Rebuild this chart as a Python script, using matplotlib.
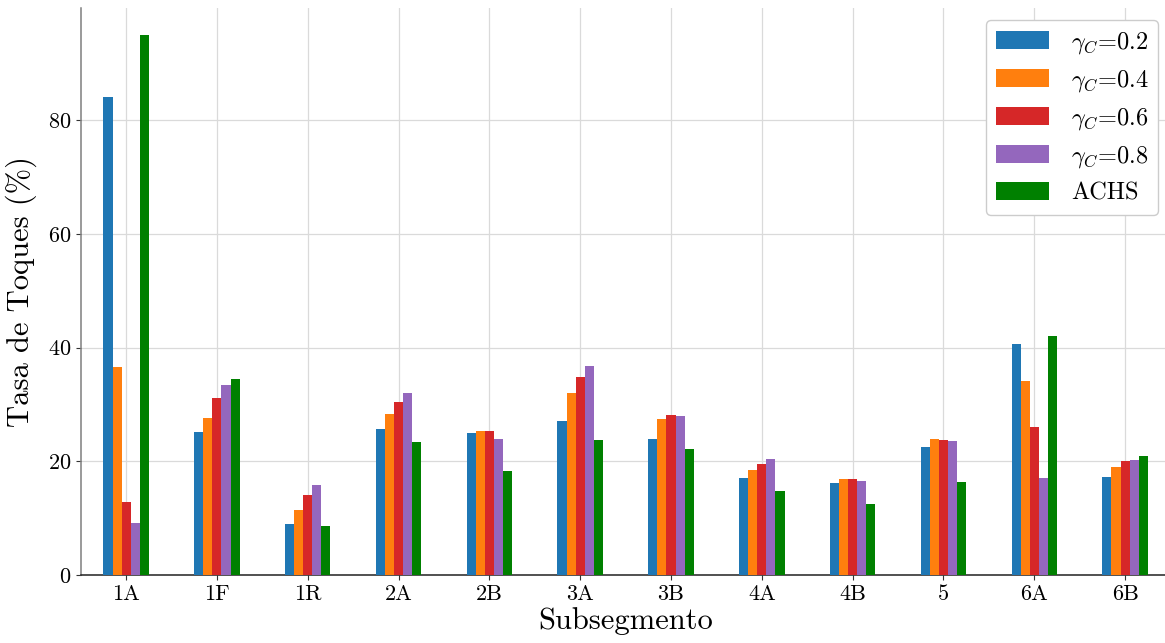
import numpy as np
import matplotlib
matplotlib.use("Agg")
import matplotlib.pyplot as plt

plt.rcParams["font.family"] = ["cmr10", "DejaVu Serif"]
plt.rcParams["mathtext.fontset"] = "cm"
plt.rcParams["axes.formatter.use_mathtext"] = True

segments = ["1A", "1F", "1R", "2A", "2B", "3A", "3B", "4A", "4B", "5", "6A", "6B"]

gamma_02 = [84.0, 25.2, 8.9, 25.6, 24.9, 27.0, 24.0, 17.1, 16.2, 22.6, 40.6, 17.3]
gamma_04 = [36.6, 27.6, 11.5, 28.4, 25.3, 32.0, 27.4, 18.4, 16.8, 24.0, 34.1, 19.0]
gamma_06 = [12.9, 31.1, 14.0, 30.4, 25.3, 34.8, 28.1, 19.6, 16.8, 23.8, 26.1, 20.1]
gamma_08 = [9.1, 33.5, 15.9, 32.1, 24.0, 36.7, 27.9, 20.4, 16.6, 23.6, 17.1, 20.2]
achs = [95.0, 34.4, 8.6, 23.4, 18.3, 23.7, 22.2, 14.8, 12.4, 16.4, 42.0, 21.0]

series = [gamma_02, gamma_04, gamma_06, gamma_08, achs]
labels = [r"$\gamma_C$=0.2", r"$\gamma_C$=0.4", r"$\gamma_C$=0.6",
          r"$\gamma_C$=0.8", "ACHS"]
colors = ["#1f77b4", "#ff7f0e", "#d62728", "#9467bd", "#008000"]

fig = plt.figure(figsize=(11.65, 6.43), dpi=100)
ax = fig.add_axes([0.0693, 0.1058, 0.9354, 0.8818])

x = np.arange(len(segments))
width = 0.1
for i, (vals, lab, col) in enumerate(zip(series, labels, colors)):
    ax.bar(x + (i - 2) * width, vals, width, label=lab, color=col, zorder=3)

ax.set_xlim(-0.5, len(segments) - 0.5)
ax.set_ylim(0, max(achs) * 1.05)
ax.set_yticks([0, 20, 40, 60, 80])
ax.set_xticks(x)
ax.set_xticklabels(segments)
ax.tick_params(axis="both", labelsize=16, length=3.5, width=0.8, color="#333333")

ax.grid(True, color="#dadada", linewidth=0.9, zorder=0)
ax.set_axisbelow(True)
for side in ("top", "right"):
    ax.spines[side].set_visible(False)
ax.spines["left"].set_color("#7f7f7f")
ax.spines["bottom"].set_color("#222222")
ax.spines["left"].set_linewidth(1.1)
ax.spines["bottom"].set_linewidth(1.1)

ax.set_xlabel("Subsegmento", fontsize=22, labelpad=2)
ax.set_ylabel("Tasa de Toques (%)", fontsize=22, labelpad=8)

leg = ax.legend(loc="upper right", fontsize=17.5, handlelength=2.2,
                handleheight=0.75, labelspacing=0.5, handletextpad=0.9,
                borderaxespad=0.5, fancybox=True, framealpha=1.0,
                edgecolor="#cccccc")

fig.savefig("out.png", dpi=100)
